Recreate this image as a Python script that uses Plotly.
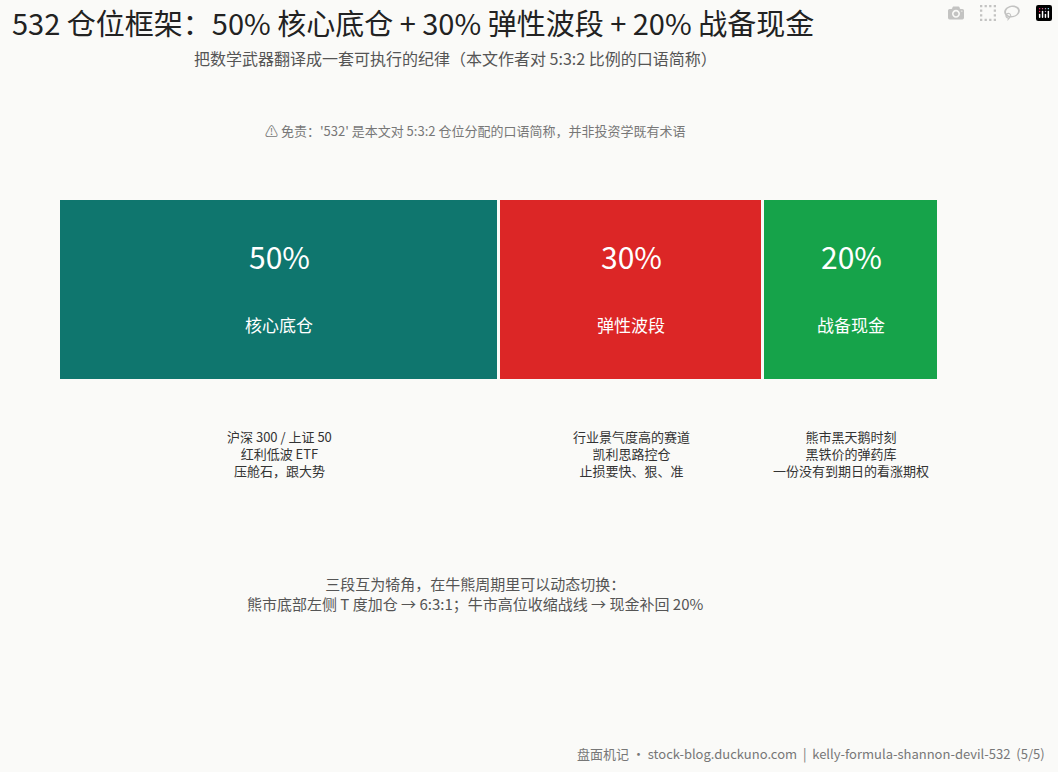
import plotly.graph_objects as go

names = ["核心底仓", "弹性波段", "战备现金"]
shares = [50, 30, 20]
colors = ["#0f766e", "#dc2626", "#16a34a"]
details = [
    "沪深 300 / 上证 50<br>红利低波 ETF<br>压舱石，跟大势",
    "行业景气度高的赛道<br>凯利思路控仓<br>止损要快、狠、准",
    "熊市黑天鹅时刻<br>黑铁价的弹药库<br>一份没有到期日的看涨期权",
]

F = "Noto Sans CJK SC, Noto Sans, sans-serif"
fig = go.Figure()
for n, s, c in zip(names, shares, colors):
    fig.add_trace(go.Bar(x=[s], y=[0], orientation="h", marker=dict(color=c, line=dict(color="#fafaf8", width=3)),
                         name=n, hoverinfo="skip"))

ann = []
start = 0
for n, s, d in zip(names, shares, details):
    cx = start + s / 2
    ann.append(dict(x=cx, y=0.687, text=f"{s}%", xref="x", font=dict(size=30, color="white", family=F)))
    ann.append(dict(x=cx, y=0.308, text=n, xref="x", font=dict(size=17, color="white", family=F)))
    ann.append(dict(x=cx, y=-0.396, text=d, xref="x", font=dict(size=13, color="#333", family=F)))
    start += s

ann += [
    dict(x=-0.0557, y=1.972, xanchor="left", text="532 仓位框架：50% 核心底仓 + 30% 弹性波段 + 20% 战备现金",
         font=dict(size=29, color="#222", family=F)),
    dict(x=0.45, y=1.775, text="把数学武器翻译成一套可执行的纪律（本文作者对 5:3:2 比例的口语简称）",
         font=dict(size=16, color="#555", family=F)),
    dict(x=0.473, y=1.379, text="⚠ 免责：'532' 是本文对 5:3:2 仓位分配的口语简称，并非投资学既有术语",
         font=dict(size=13, color="#777", family=F)),
    dict(x=0.473, y=-1.17,
         text="三段互为犄角，在牛熊周期里可以动态切换：<br>熊市底部左侧 T 度加仓 → 6:3:1；牛市高位收缩战线 → 现金补回 20%",
         font=dict(size=15, color="#555", family=F)),
    dict(x=1.1227, y=-2.049, xanchor="right",
         text="盘面机记 · stock-blog.duckuno.com  |  kelly-formula-shannon-devil-532  (5/5)",
         font=dict(size=13, color="#777", family=F)),
]
for a in ann:
    a.setdefault("xref", "paper")
    a["yref"] = "paper"
    a.setdefault("xanchor", "center")
    a["yanchor"] = "middle"
    a["showarrow"] = False

fig.update_layout(
    barmode="stack", bargap=0, showlegend=False,
    width=1058, height=772, margin=dict(l=59, r=119, t=199, b=391),
    paper_bgcolor="#fafaf8", plot_bgcolor="#fafaf8",
    xaxis=dict(range=[0, 100], visible=False, fixedrange=True),
    yaxis=dict(range=[-0.5, 0.5], visible=False, fixedrange=True),
    annotations=ann, font=dict(family=F),
)
fig.write_html("out.html")
with open("out.html", encoding="utf-8") as f:
    html = f.read()
html = html.replace("<head>", "<head><style>html,body{margin:0;padding:0;overflow:hidden;background:#fafaf8}</style>", 1)
with open("out.html", "w", encoding="utf-8") as f:
    f.write(html)
